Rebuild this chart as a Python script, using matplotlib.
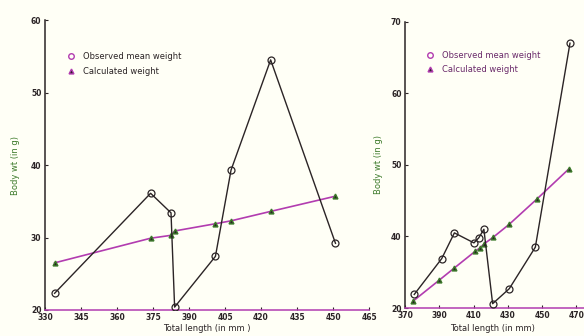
import matplotlib
matplotlib.use("Agg")
from matplotlib import pyplot as plt
from matplotlib.lines import Line2D

# left panel
left_len = [334, 374, 382.5, 384, 401, 407.5, 424, 451]
left_obs = [22.3, 36.1, 33.4, 20.4, 27.4, 39.3, 54.5, 29.2]
left_calc = [26.5, 29.9, 30.3, 30.9, 31.9, 32.3, 33.6, 35.7]
left_xticks = [330, 345, 360, 375, 390, 405, 420, 435, 450, 465]
left_yticks = [20, 30, 40, 50, 60]

# right panel
right_obs_len = [375.4, 391.4, 398.8, 410.2, 413, 416, 421.1, 430.8, 446, 466.2]
right_obs = [31.9, 36.9, 40.5, 39.1, 39.8, 41.0, 30.6, 32.7, 38.5, 67.0]
right_calc_len = [374.9, 390, 398.8, 410.8, 413.7, 416.3, 421.5, 430.8, 446.8, 465.4]
right_calc = [31.0, 33.9, 35.6, 37.9, 38.4, 39.0, 39.9, 41.7, 45.2, 49.4]
right_xticks = [370, 390, 410, 430, 450, 470]
right_yticks = [30, 40, 50, 60, 70]
right_yticklabels = ["20", "40", "50", "60", "70"]

bg = "#fffff6"
dark = "#2b2426"
magenta = "#b23cb0"

plt.rcParams["font.family"] = "DejaVu Sans"

fig = plt.figure(figsize=(5.84, 3.36), dpi=100, facecolor=bg)
ax1 = fig.add_axes([0.077, 0.0774, 0.555, 0.863])
ax2 = fig.add_axes([0.6935, 0.0833, 0.323, 0.852])


def style(ax, xlim, ylim, xticks, yticks, ylabels, xlabel):
    ax.set_facecolor(bg)
    ax.set_xlim(*xlim)
    ax.set_ylim(*ylim)
    ax.set_xticks(xticks)
    ax.set_yticks(yticks)
    ax.set_yticklabels(ylabels)
    for s in ["top", "right"]:
        ax.spines[s].set_visible(False)
    ax.spines["left"].set_color(dark)
    ax.spines["left"].set_linewidth(1.1)
    ax.spines["bottom"].set_color(magenta)
    ax.spines["bottom"].set_linewidth(1.1)
    ax.tick_params(direction="in", length=2, width=0.8, labelsize=5.5,
                   labelcolor=dark, colors=dark)
    ax.tick_params(axis="x", pad=2.5)
    ax.tick_params(axis="y", pad=2.5)
    for lab in ax.get_xticklabels() + ax.get_yticklabels():
        lab.set_fontweight("bold")
    ax.set_xlabel(xlabel, fontsize=6, color=dark)
    ax.set_ylabel("Body wt (in g)", fontsize=6, color="#3c7a2a", labelpad=8)


def draw(ax, xo, yo, xc, yc):
    ax.plot(xc, yc, color=magenta, linewidth=1.2, marker="^", markersize=3.5,
            markerfacecolor=dark, markeredgecolor="#3c7a2a", zorder=2)
    ax.plot(xo, yo, color=dark, linewidth=1.0, marker="o", markersize=5,
            markerfacecolor="none", markeredgecolor=dark, markeredgewidth=0.9,
            zorder=3)
    handles = [
        Line2D([], [], linestyle="none", marker="o", markersize=4,
               markerfacecolor="none", markeredgecolor=magenta),
        Line2D([], [], linestyle="none", marker="^", markersize=3.5,
               markerfacecolor=dark, markeredgecolor=magenta),
    ]
    return handles


style(ax1, (330, 465), (20, 60), left_xticks, left_yticks,
      [str(v) for v in left_yticks], "Total length (in mm )")
ax1.xaxis.set_label_coords(0.5, -0.048)
h = draw(ax1, left_len, left_obs, left_len, left_calc)
ax1.legend(h, ["Observed mean weight", "Calculated weight"],
           loc="upper left", bbox_to_anchor=(0.045, 0.915), frameon=False,
           fontsize=6, handlelength=1.0, handletextpad=0.9, labelspacing=0.7,
           labelcolor=dark)

style(ax2, (370, 480), (30, 70), right_xticks, right_yticks,
      right_yticklabels, "Total length (in mm)")
ax2.xaxis.set_label_coords(0.465, -0.055)
ax2.yaxis.set_label_coords(-0.115, 0.5)
h = draw(ax2, right_obs_len, right_obs, right_calc_len, right_calc)
ax2.legend(h, ["Observed mean weight", "Calculated weight"],
           loc="upper left", bbox_to_anchor=(0.07, 0.925), frameon=False,
           fontsize=6, handlelength=1.0, handletextpad=0.9, labelspacing=0.6,
           labelcolor="#6a2a6a")

fig.savefig("out.png", dpi=100, facecolor=bg)
